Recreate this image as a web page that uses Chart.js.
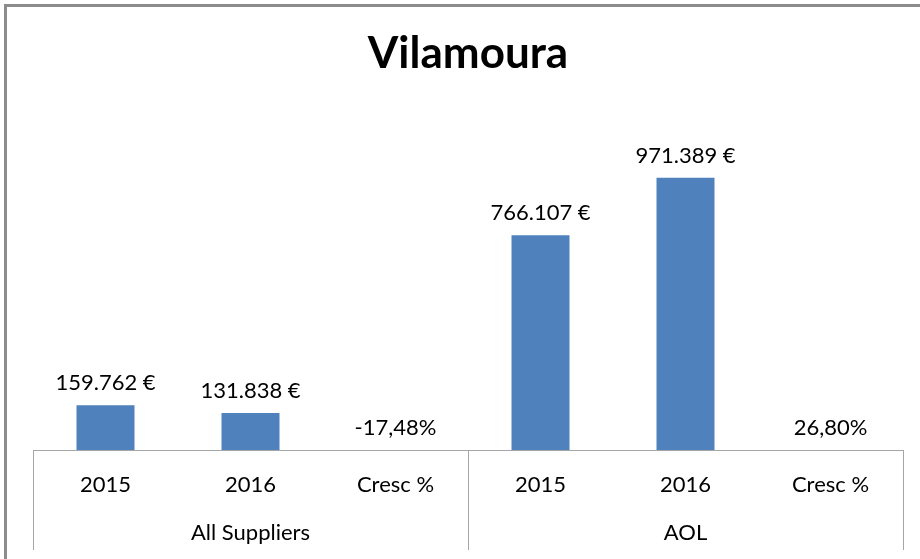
<!DOCTYPE html>
<html>
<head>
<meta charset="utf-8">
<script src="https://cdn.jsdelivr.net/npm/chart.js@4/dist/chart.umd.min.js"></script>
<style>
  html, body { margin: 0; padding: 0; background: #fff; }
  #wrap { width: 920px; height: 559px; position: relative; }
</style>
</head>
<body>
<div id="wrap"><canvas id="chart" width="920" height="559"></canvas></div>
<script>
  const categories = ['2015', '2016', 'Cresc %', '2015', '2016', 'Cresc %'];
  const groups = ['All Suppliers', 'AOL'];
  const suppliersSales = [159762, 131838];
  const aolSales = [766107, 971389];
  const growth = [-0.1748, 0.268];

  const values = [
    suppliersSales[0], suppliersSales[1], growth[0],
    aolSales[0], aolSales[1], growth[1],
  ];
  const pctIndex = [2, 5];

  const fontFamily = 'Lato, "Open Sans", sans-serif';
  const lineColor = '#a6a6a6';

  const euro = function (v) {
    return String(v).replace(/\B(?=(\d{3})+(?!\d))/g, '.') + ' €';
  };
  const pct = function (v) {
    return (v * 100).toFixed(2).replace('.', ',') + '%';
  };

  /* grey frame at top and left of the chart */
  const framePlugin = {
    id: 'frame',
    beforeDraw(chart) {
      const ctx = chart.ctx;
      ctx.save();
      ctx.strokeStyle = '#8c8c8c';
      ctx.lineWidth = 3;
      ctx.beginPath();
      ctx.moveTo(5.5, chart.height);
      ctx.lineTo(5.5, 5.5);
      ctx.lineTo(chart.width, 5.5);
      ctx.stroke();
      ctx.restore();
    },
  };

  /* value labels above each bar */
  const labelPlugin = {
    id: 'barLabels',
    afterDatasetsDraw(chart) {
      const ctx = chart.ctx;
      const meta = chart.getDatasetMeta(0);
      ctx.save();
      ctx.font = '22px ' + fontFamily;
      ctx.fillStyle = '#000';
      ctx.textAlign = 'center';
      ctx.textBaseline = 'alphabetic';
      meta.data.forEach(function (bar, i) {
        const v = values[i];
        const txt = pctIndex.includes(i) ? pct(v) : euro(v);
        const top = Math.min(bar.y, bar.base);
        ctx.fillText(txt, bar.x, top - 15);
      });
      ctx.restore();
    },
  };

  /* second axis level: group separators and group names */
  const groupPlugin = {
    id: 'groupAxis',
    afterDraw(chart) {
      const x = chart.scales.x;
      const ctx = chart.ctx;
      const per = categories.length / groups.length;
      const bottom = 550;
      const edges = [x.left];
      for (let g = 1; g < groups.length; g++) {
        edges.push((x.getPixelForTick(g * per - 1) + x.getPixelForTick(g * per)) / 2);
      }
      edges.push(x.right);

      ctx.save();
      ctx.strokeStyle = lineColor;
      ctx.lineWidth = 1;
      edges.forEach(function (px) {
        const p = Math.round(px) + 0.5;
        ctx.beginPath();
        ctx.moveTo(p, x.top);
        ctx.lineTo(p, bottom);
        ctx.stroke();
      });

      ctx.font = '22px ' + fontFamily;
      ctx.fillStyle = '#000';
      ctx.textAlign = 'center';
      ctx.textBaseline = 'alphabetic';
      groups.forEach(function (name, g) {
        ctx.fillText(name, (edges[g] + edges[g + 1]) / 2, 540);
      });
      ctx.restore();
    },
  };

  const ctx = document.getElementById('chart').getContext('2d');

  // eslint-disable-next-line
  const chart = new Chart(ctx, {
    type: 'bar',
    data: {
      labels: categories,
      datasets: [
        {
          label: 'Vilamoura',
          data: values,
          backgroundColor: '#4f81bd',
          borderWidth: 0,
          categoryPercentage: 1,
          barPercentage: 0.4,
        },
      ],
    },
    options: {
      responsive: false,
      animation: false,
      layout: {
        padding: { left: 33, right: 17, top: 0, bottom: 0 },
      },
      plugins: {
        legend: { display: false },
        tooltip: { enabled: false },
        title: {
          display: true,
          text: 'Vilamoura',
          color: '#000',
          font: { family: fontFamily, size: 44, weight: 'bold', lineHeight: 1.2 },
          padding: { top: 27, bottom: 34 },
        },
      },
      scales: {
        y: {
          display: false,
          min: 0,
          max: 1200000,
        },
        x: {
          grid: { display: false },
          border: { display: true, color: lineColor, width: 1 },
          ticks: {
            color: '#000',
            font: { family: fontFamily, size: 22 },
            padding: 14,
            maxRotation: 0,
            autoSkip: false,
          },
          afterFit(scale) {
            scale.height = 109;
          },
        },
      },
    },
    plugins: [framePlugin, labelPlugin, groupPlugin],
  });
</script>
</body>
</html>
